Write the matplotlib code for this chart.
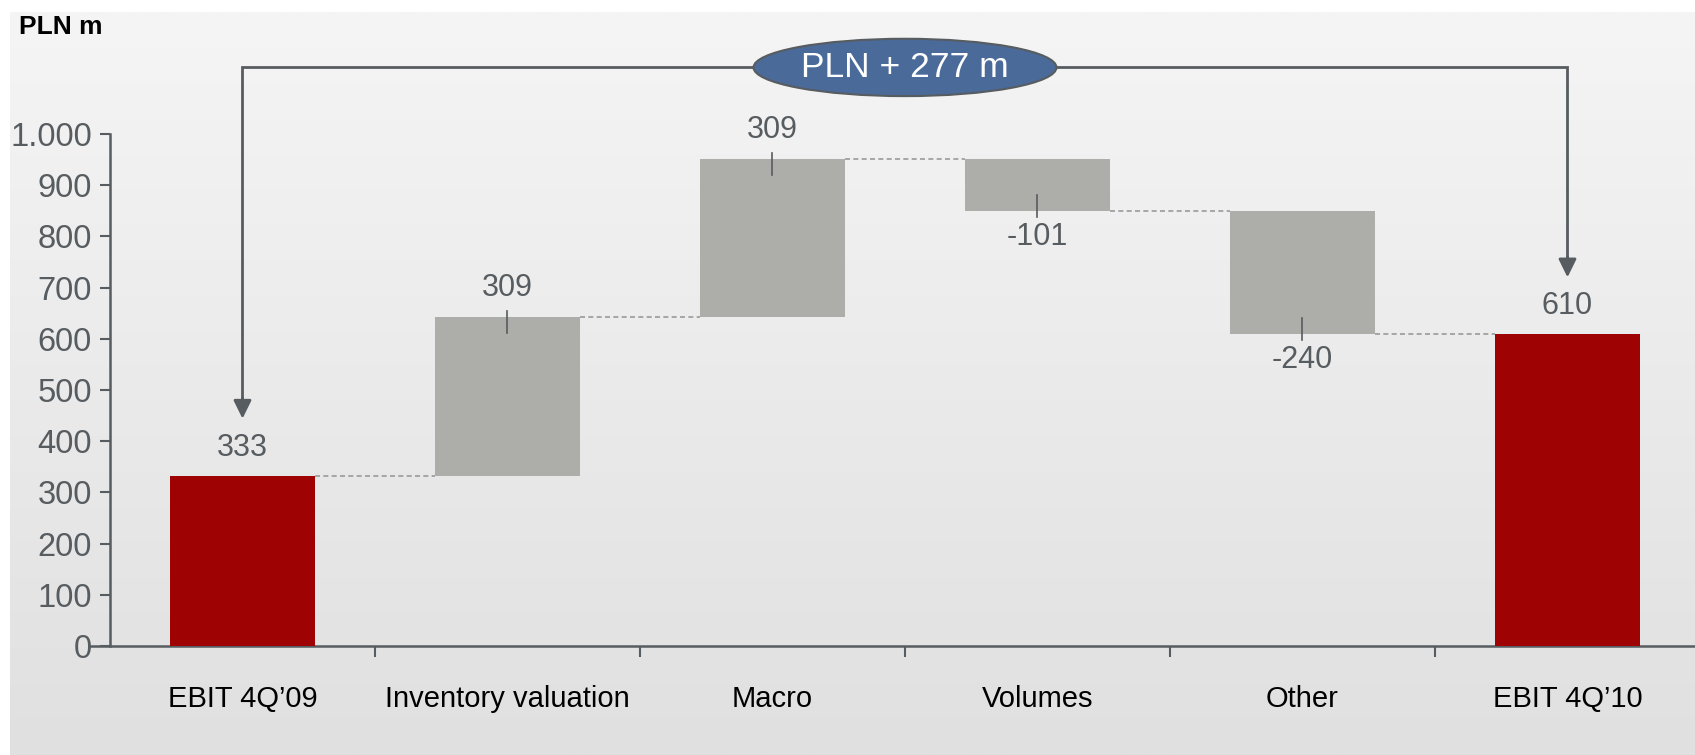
import numpy as np
import matplotlib.pyplot as plt
from matplotlib.patches import Ellipse
from matplotlib.colors import LinearSegmentedColormap

categories = ['EBIT 4Q\u201909', 'Inventory valuation', 'Macro', 'Volumes', 'Other', 'EBIT 4Q\u201910']
values = [333, 309, 309, -101, -240, 610]
is_total = [True, False, False, False, False, True]
yticks = [0, 100, 200, 300, 400, 500, 600, 700, 800, 900, 1000]
ytick_labels = ['0', '100', '200', '300', '400', '500', '600', '700', '800', '900', '1.000']
unit_label = 'PLN m'
change_label = 'PLN + 277 m'

plt.rcParams['font.family'] = ['Liberation Sans Narrow', 'Liberation Sans', 'DejaVu Sans']

RED = '#9e0202'
GREY = '#adada9'
AXC = '#575c60'

W, H = 1695, 755
fig = plt.figure(figsize=(W / 100, H / 100), dpi=100)

# gradient background with white strip top/left
bg = fig.add_axes([10 / W, 0, 1 - 10 / W, 1 - 12 / H], zorder=-5)
cmap = LinearSegmentedColormap.from_list('bg', ['#f5f5f5', '#e0e0e0'])
bg.imshow(np.linspace(0, 1, 256).reshape(-1, 1), aspect='auto', cmap=cmap, extent=[0, 1, 0, 1])
bg.axis('off')

ax = fig.add_axes([110 / W, 109 / H, 1590 / W, 512 / H])
ax.patch.set_alpha(0)
ax.set_xlim(-0.5, 5.5)
ax.set_ylim(0, 1000)
px = 512 / 1000  # pixels per data unit

bw = 0.55
running = 0
levels = []
for i, (v, tot) in enumerate(zip(values, is_total)):
    if tot:
        running = v
        ax.bar(i, v, width=bw, color=RED, zorder=3)
        ax.annotate(str(v), (i, v), xytext=(0, 28), textcoords='offset pixels',
                    ha='center', va='center', fontsize=22, color=AXC)
    else:
        start, end = running, running + v
        running = end
        ax.bar(i, abs(v), bottom=min(start, end), width=bw, color=GREY, zorder=3)
        if v > 0:
            ax.plot([i, i], [end + 6 / px, end - 16 / px], color=AXC, lw=1.2, zorder=4)
            ax.annotate(str(v), (i, end), xytext=(0, 29), textcoords='offset pixels',
                        ha='center', va='center', fontsize=22, color=AXC)
        else:
            ax.plot([i, i], [end - 6 / px, end + 16 / px], color=AXC, lw=1.2, zorder=4)
            ax.annotate(str(v), (i, end), xytext=(0, -26), textcoords='offset pixels',
                        ha='center', va='center', fontsize=22, color=AXC)
    levels.append(running)

# dashed connectors
for i in range(len(values) - 1):
    ax.plot([i + bw / 2, i + 1 - bw / 2], [levels[i], levels[i]], color='#9a9a9a',
            lw=1.2, ls=(0, (3, 2)), zorder=2)

# bracket with arrows
top_y = 1130
ax.plot([0, 0, 5, 5], [470, top_y, top_y, 740], color=AXC, lw=2, clip_on=False, zorder=4,
        solid_joinstyle='miter')
for x, y in [(0, 444), (5, 720)]:
    ax.annotate('', xy=(x, y), xytext=(x, y + 40), annotation_clip=False,
                arrowprops=dict(arrowstyle='-|>,head_length=0.55,head_width=0.27',
                                mutation_scale=20, color=AXC, lw=2, shrinkA=0, shrinkB=0))
ell = Ellipse((2.5, top_y), width=1.143, height=112, facecolor='#4a6a9a', edgecolor=AXC,
              lw=1.5, clip_on=False, zorder=6)
ax.add_patch(ell)
ax.text(2.5, top_y, change_label, ha='center', va='center', fontsize=25.5, color='white',
        zorder=7, clip_on=False)

# axes styling
for s in ['top', 'right']:
    ax.spines[s].set_visible(False)
for s in ['left', 'bottom']:
    ax.spines[s].set_color(AXC)
    ax.spines[s].set_linewidth(1.8)
ax.spines['bottom'].set_bounds(-0.58, 5.5)
ax.set_yticks(yticks)
ax.set_yticklabels(ytick_labels)
ax.tick_params(axis='y', direction='out', length=7, width=1.5, color=AXC, labelcolor=AXC,
               labelsize=23.5, pad=6)
ax.set_xticks(range(len(categories)))
ax.set_xticklabels(categories)
ax.tick_params(axis='x', length=0, labelsize=21, labelcolor='black', pad=28)
ax.set_xticks(np.arange(0.5, 5.5, 1), minor=True)
ax.tick_params(axis='x', which='minor', direction='out', length=8, width=1.5, color=AXC)

fig.text(19 / W, 1 - 27 / H, unit_label, ha='left', va='center', fontsize=19,
         fontweight='bold', color='black')

fig.savefig('out.png', dpi=100)
